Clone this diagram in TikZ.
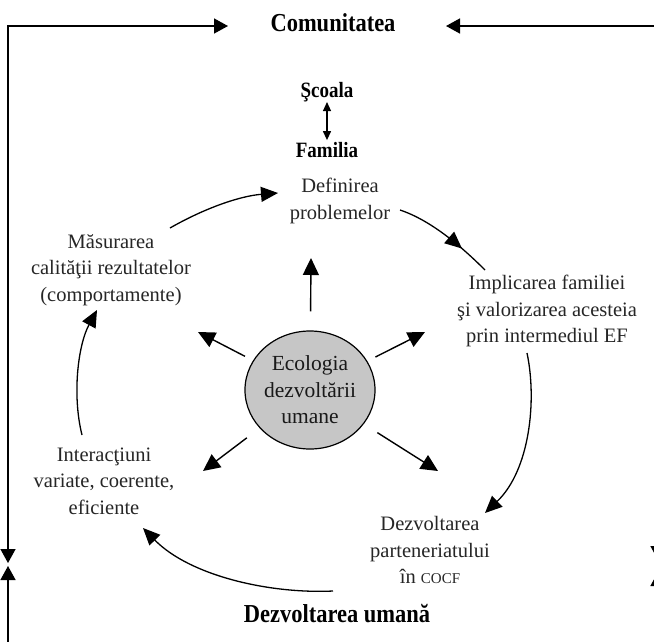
\documentclass[tikz,border=0pt]{standalone}
\usepackage{fontspec}
\setmainfont{Liberation Serif}
\usetikzlibrary{arrows.meta,shapes.geometric,decorations.markings}

\newcommand{\tallbold}[1]{\scalebox{1}[1.15]{#1}}

\begin{document}
\begin{tikzpicture}[x=1pt,y=-1pt,
  frame/.style={line width=1.5pt},
  frametip/.tip={Triangle[length=14pt,width=15pt]},
  cyctip/.tip={Triangle[length=17pt,width=15pt]},
  cyc/.style={line width=1.3pt,-cyctip},
  ray/.style={line width=1.4pt,-{Triangle[length=17pt,width=16pt]}},
  head/.style={inner sep=0pt,font=\fontsize{22.5}{27}\selectfont\bfseries},
  sub/.style={inner sep=0pt,font=\fontsize{19}{23}\selectfont\bfseries},
  stage/.style={inner sep=0pt,align=center,text=black!85,
                font=\fontsize{20.5}{26.5}\selectfont},
  midtip/.style={postaction={decorate},decoration={markings,
                 mark=at position #1 with {\arrow{cyctip}}}}]

\useasboundingbox (0,0) rectangle (654,641);

% outer labels
\node[head] (com) at (333,23) {\tallbold{Comunitatea}};
\node[head] (hum) at (337,614) {\tallbold{Dezvoltarea umană}};

% school / family
\node[sub] (sco) at (327,92) {\tallbold{Şcoala}};
\node[sub] (fam) at (327,150) {\tallbold{Familia}};
\draw[line width=1.2pt,{Triangle[length=9pt,width=8pt]}-{Triangle[length=9pt,width=8pt]},
      shorten >=2pt] (sco) -- (fam);

% frame arrows
\coordinate (tl) at (228,26);
\coordinate (dl) at (8,563);
\coordinate (ul) at (8,566);
\coordinate (bl) at (8,660);
\coordinate (tr) at (446,26);
\coordinate (dr) at (658,560);
\coordinate (ur) at (658,572);
\coordinate (br) at (658,660);
\draw[frame,frametip-frametip] (tl) -| (dl);
\draw[frame,frametip-frametip] (tr) -| (dr);
\draw[frame,-frametip] (bl) -- (ul);
\draw[frame,-frametip] (br) -- (ur);

% central node
\node[ellipse,draw,line width=1.2pt,fill=gray!45,minimum width=126pt,
      minimum height=118pt,inner sep=0pt,align=center,text=black!90,
      font=\fontsize{21.5}{26.5}\selectfont] (eco) at (310,390)
      {Ecologia\\dezvoltării\\umane};

% stages of the cycle
\node[stage] (def) at (340,201) {Definirea\\problemelor};
\node[stage] (imp) at (547,311) {Implicarea familiei\\şi valorizarea acesteia\\prin intermediul EF};
\node[stage] (par) at (430,550) {Dezvoltarea\\parteneriatului\\în {\fontsize{15}{18}\selectfont COCF}};
\node[stage] (int) at (104,481) {Interacţiuni\\variate, coerente,\\eficiente};
\node[stage] (mas) at (111,270) {Măsurarea\\calităţii rezultatelor\\(comportamente)};

% rays from the centre
\coordinate (rU) at (311,258);
\coordinate (rUL) at (198,332);
\coordinate (rUR) at (425,332);
\coordinate (rLL) at (203,471);
\coordinate (rLR) at (438,471);
\draw[ray,shorten <=19pt] (eco) -- (rU);
\draw[ray,shorten <=9pt] (eco) -- (rUL);
\draw[ray,shorten <=9pt] (eco) -- (rUR);
\draw[ray,shorten <=16pt] (eco) -- (rLL);
\draw[ray,shorten <=16pt] (eco) -- (rLR);

% cycle arrows
\coordinate (c1a) at (170,228);
\coordinate (c1b) at (278,193);
\coordinate (c2a) at (400,210);
\coordinate (c2b) at (485,270);
\coordinate (c3a) at (527,353);
\coordinate (c3b) at (485,513);
\coordinate (c4a) at (333,591);
\coordinate (c4b) at (143,528);
\coordinate (c5a) at (82,435);
\coordinate (c5b) at (97,310);
\draw[cyc] (c1a) .. controls (205,208) and (240,196) .. (c1b);
\draw[line width=1.3pt,midtip=0.7] (c2a) .. controls (430,220) and (460,245) .. (c2b);
\draw[cyc] (c3a) .. controls (537,400) and (530,470) .. (c3b);
\draw[cyc] (c4a) .. controls (270,594) and (190,576) .. (c4b);
\draw[cyc] (c5a) .. controls (72,395) and (78,345) .. (c5b);
\end{tikzpicture}
\end{document}
